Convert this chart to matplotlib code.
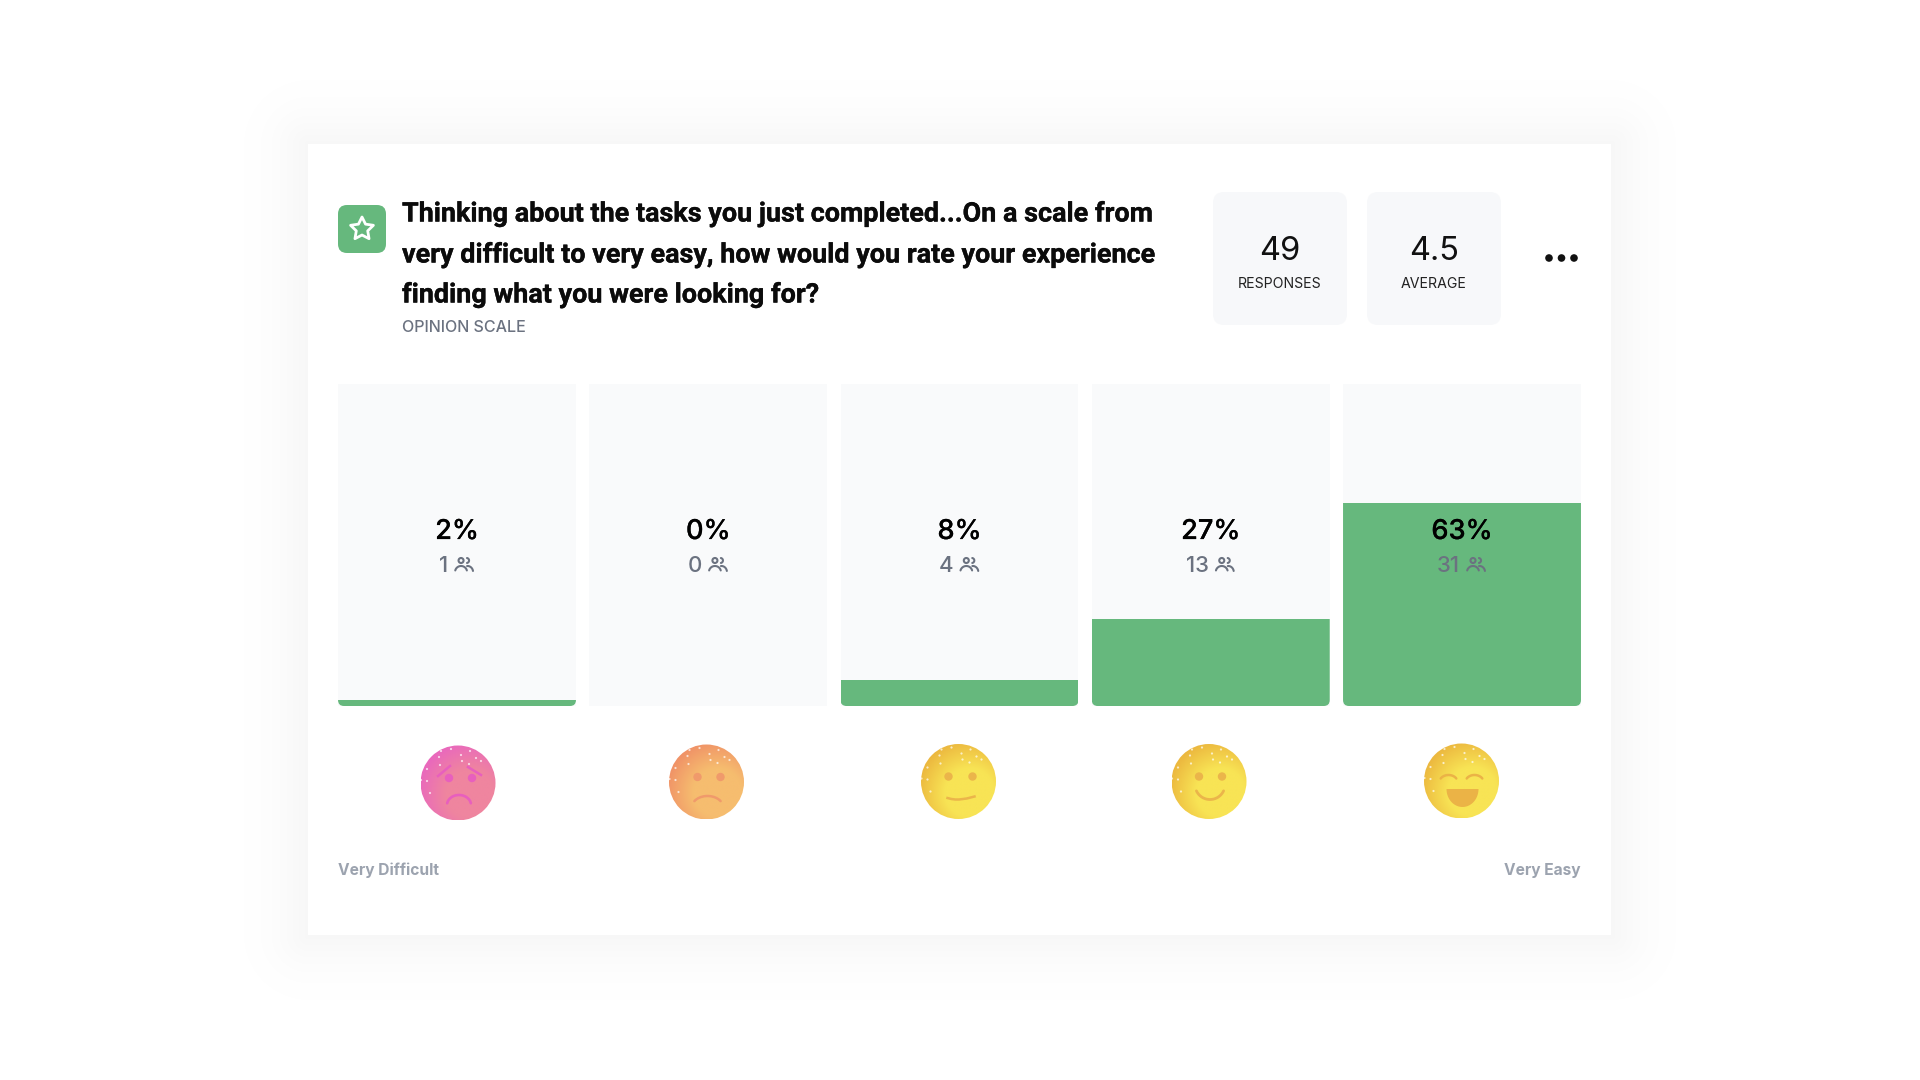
import numpy as np
import matplotlib
matplotlib.use('Agg')
from matplotlib import pyplot as plt
from matplotlib import patheffects as pe
from matplotlib.patches import Circle, FancyBboxPatch, Rectangle, Polygon

# chart values
scale_points = [1, 2, 3, 4, 5]
percents = [2, 0, 8, 27, 63]
counts = [1, 0, 4, 13, 31]
pct_labels = ['2%', '0%', '8%', '27%', '63%']

question = ['Thinking about the tasks you just completed...On a scale from',
            'very difficult to very easy, how would you rate your experience',
            'finding what you were looking for?']
stat_values = ['49', '4.5']
stat_names = ['RESPONSES', 'AVERAGE']
scale_ends = ['Very Difficult', 'Very Easy']

GREEN = '#66b87d'
TRACK = '#f9fafb'
SANS = ['Inter', 'DejaVu Sans']

# face colours: corner, body, detail
face_colours = [('#e968bd', '#ef859f', '#e85fbe'),
                ('#f09267', '#f6bd6f', '#f09a6b'),
                ('#ecb83f', '#f8e455', '#ebb54a'),
                ('#ecb83f', '#f8e455', '#ebb54a'),
                ('#ecb83f', '#f8e455', '#ebb346')]
face_centres = [(458, 783), (706.5, 782), (958.5, 781.5), (1209, 781.5), (1461.5, 781)]
speckles = [(-19, -26), (-17, -32), (-31, -14), (-37, -3), (-31, -2), (-18, -18), (3, -28),
            (12, -32), (18, -25), (23, -22), (4, -22), (-7, -34), (-28, 10), (11, -19)]

fig = plt.figure(figsize=(19.2, 10.8), dpi=100, facecolor='white')


def pixel_axes(zorder):
    a = fig.add_axes([0, 0, 1, 1], zorder=zorder)
    a.set_xlim(0, 1920)
    a.set_ylim(1080, 0)
    a.axis('off')
    return a


page = pixel_axes(0)
front = pixel_axes(2)
front.patch.set_alpha(0)


def arc(a, cx, cy, rx, ry, a0, a1, color, lw, zorder=5):
    t = np.radians(np.linspace(a0, a1, 40))
    a.plot(cx + rx * np.cos(t), cy - ry * np.sin(t), color=color, lw=lw,
           solid_capstyle='round', zorder=zorder)


# card and its soft shadow
yy, xx = np.mgrid[0:1080, 0:1920]
dx = np.maximum(np.maximum(308 - xx, xx - 1611), 0)
dy = np.maximum(np.maximum(144 - yy, yy - 935), 0)
dist = np.hypot(dx, dy)
shadow = np.zeros((1080, 1920, 4))
shadow[..., 3] = 0.033 * np.exp(-(dist / 36.0) ** 1.3)
page.imshow(shadow, extent=(0, 1920, 1080, 0), interpolation='bilinear', aspect='auto', zorder=0)
page.set_xlim(0, 1920)
page.set_ylim(1080, 0)
page.add_patch(Rectangle((308, 144), 1303, 791, fc='white', ec='none', zorder=1))

# question header
page.add_patch(FancyBboxPatch((346, 213), 32, 32, boxstyle='round,pad=8,rounding_size=9',
                              fc=GREEN, ec='none', zorder=2))
ang = np.radians(90 + np.arange(10) * 36)
rad = np.where(np.arange(10) % 2 == 0, 12.0, 6.0)
page.add_patch(Polygon(np.c_[362 + rad * np.cos(ang), 229 - rad * np.sin(ang)], closed=True,
                       fc='none', ec='white', lw=2.0, joinstyle='round', zorder=3))
for line, y in zip(question, [214, 255, 295]):
    page.text(402, y, line, fontsize=19.4, family=['Roboto', 'DejaVu Sans'], weight='bold',
              color='#0b0b0b', va='center', ha='left', zorder=3,
              path_effects=[pe.withStroke(linewidth=0.25, foreground='#0b0b0b')])
page.text(402, 327, 'OPINION SCALE', fontsize=11.6, family=SANS, weight=500, color='#6b7280',
          va='center', ha='left', zorder=3)

# stat boxes
for x0, val, name in zip([1213, 1367], stat_values, stat_names):
    page.add_patch(FancyBboxPatch((x0 + 10, 202), 114, 113,
                                  boxstyle='round,pad=10,rounding_size=11',
                                  fc='#f7f8fa', ec='none', zorder=2))
    page.text(x0 + 67, 251.5, val, fontsize=23.5, family=SANS, color='#111111',
              ha='center', va='center', zorder=3)
    page.text(x0 + 67, 284, name, fontsize=10.2, family=SANS, color='#222222',
              ha='center', va='center', zorder=3)
for x in [1549, 1561.5, 1574]:
    page.add_patch(Circle((x, 258), 3.8, fc='#111111', ec='none', zorder=3))

# bars
ax = fig.add_axes([338 / 1920, 1 - 706 / 1080, 1243 / 1920, 322 / 1080], zorder=1)
ax.patch.set_alpha(0)
ax.axis('off')
ax.set_xlim(0.5264, 5.4736)
ax.set_ylim(0, 100)
ax.bar(scale_points, [100] * 5, width=0.947, color=TRACK)
bars = ax.bar(scale_points, percents, width=0.947, color=GREEN)
for bar in bars:
    p0 = page.transData.inverted().transform(ax.transData.transform((bar.get_x(), 0)))
    p1 = page.transData.inverted().transform(ax.transData.transform((bar.get_x() + bar.get_width(), 0)))
    clip = FancyBboxPatch((p0[0] + 6, 300), p1[0] - p0[0] - 12, p0[1] - 306,
                          boxstyle='round,pad=6,rounding_size=6', transform=page.transData)
    bar.set_clip_path(clip)


def people_icon(x, y, color):
    # x = left edge, y = vertical middle of the icon
    front.add_patch(Circle((x + 6, y - 4.5), 2.5, fc='none', ec=color, lw=1.5))
    arc(front, x + 11.5, y - 4.5, 2.5, 2.5, -80, 80, color, 1.5)
    arc(front, x + 6, y + 7, 6, 6, 15, 165, color, 1.5)
    arc(front, x + 12.5, y + 7, 5.5, 6, 10, 95, color, 1.5)


# value labels over the bars
renderer = fig.canvas.get_renderer()
for point, label, count in zip(scale_points, pct_labels, counts):
    cx = page.transData.inverted().transform(ax.transData.transform((point, 0)))[0]
    front.text(cx, 532, label, fontsize=19.6, family=SANS, weight=500, color='black',
               ha='center', va='center',
               path_effects=[pe.withStroke(linewidth=0.15, foreground='black')])
    t = front.text(cx, 566, str(count), fontsize=16, family=SANS, weight=500, color='#6b7280',
                   ha='left', va='center')
    w = t.get_window_extent(renderer).width
    left = cx - (w + 7 + 18) / 2 - 1
    t.set_x(left)
    people_icon(left + w + 7, 565, '#6b7280')


def face(cx, cy, r, colours):
    corner, body, detail = [np.array(matplotlib.colors.to_rgb(c)) for c in colours]
    n = 160
    v, u = np.mgrid[-1:1:n * 1j, -1:1:n * 1j]
    d = np.hypot(u - 0.3, v - 0.3)
    k = np.clip((1.4 - d) / 0.75, 0, 1)[..., None]
    im = front.imshow(corner * (1 - k) + body * k, extent=(cx - r, cx + r, cy + r, cy - r),
                      aspect='auto', interpolation='bilinear', zorder=3)
    im.set_clip_path(Circle((cx, cy), r, transform=front.transData))
    for ox, oy in speckles:
        front.add_patch(Circle((cx + ox, cy + oy), 1.1, fc='white', ec='none', alpha=0.7, zorder=4))
    return matplotlib.colors.to_hex(detail)


# rating faces
details = []
for (cx, cy), colours in zip(face_centres, face_colours):
    details.append(face(cx, cy, 37.5, colours))
front.set_xlim(0, 1920)
front.set_ylim(1080, 0)


def eyes(cx, cy, dx0, dx1, col):
    for d in (dx0, dx1):
        front.add_patch(Circle((cx + d, cy), 4.2, fc=col, ec='none', zorder=5))


cx, cy = face_centres[0]
eyes(cx, cy - 5, -9, 14, details[0])
front.plot([cx - 20, cx - 8], [cy - 7, cy - 17], color=details[0], lw=1.8, zorder=5)
front.plot([cx + 10, cx + 23], [cy - 16, cy - 8], color=details[0], lw=1.8, zorder=5)
arc(front, cx + 1, cy + 22, 12, 10, 10, 170, details[0], 1.9)

cx, cy = face_centres[1]
eyes(cx, cy - 5, -9, 14, details[1])
arc(front, cx + 1, cy + 26, 16, 12, 35, 145, details[1], 1.8)

cx, cy = face_centres[2]
eyes(cx, cy - 5, -10, 14, details[2])
front.plot(np.linspace(cx - 11, cx + 16, 8), [cy + 16.5, cy + 17.5, cy + 18, cy + 18, cy + 17.5, cy + 17, cy + 16, cy + 15],
           color=details[2], lw=1.8, zorder=5)

cx, cy = face_centres[3]
eyes(cx, cy - 5, -10, 13, details[3])
arc(front, cx + 1, cy + 3, 15, 15, 205, 335, details[3], 2.0)

cx, cy = face_centres[4]
arc(front, cx - 13, cy + 1, 9, 7, 30, 150, details[4], 1.8)
arc(front, cx + 13, cy + 1, 9, 7, 30, 150, details[4], 1.8)
t = np.radians(np.linspace(180, 360, 40))
front.add_patch(Polygon(np.c_[cx + 1 + 16 * np.cos(t), cy + 8 - 18 * np.sin(t)], closed=True,
                        fc=details[4], ec='none', zorder=5))

# scale ends
front.text(338, 870, scale_ends[0], fontsize=11.2, family=SANS, weight='bold', color='#9ca3af',
           ha='left', va='center')
front.text(1581, 870, scale_ends[1], fontsize=11.2, family=SANS, weight='bold', color='#9ca3af',
           ha='right', va='center')

fig.savefig('out.png', dpi=100, facecolor='white')
